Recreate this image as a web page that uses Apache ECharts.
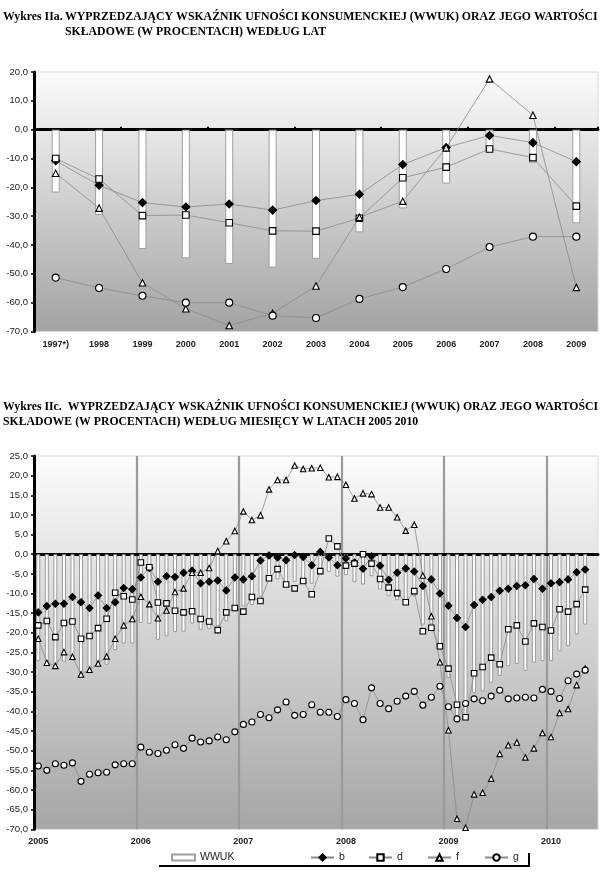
<!DOCTYPE html>
<html><head><meta charset="utf-8">
<script src="https://cdn.jsdelivr.net/npm/echarts@6/dist/echarts.min.js"></script>
<style>html,body{margin:0;padding:0;background:#fff}#c{width:600px;height:881px}</style>
</head><body><div id="c"></div>
<script>
// ---- Annual data (chart IIa) ----
const years = ['1997*)','1998','1999','2000','2001','2002','2003','2004','2005','2006','2007','2008','2009'];
const wwukY = [-21.8,-29.6,-41.4,-44.6,-46.6,-47.8,-44.8,-35.6,-27.3,-18.7,-7.7,-11.5,-32.5];
const bY = [-10.8,-19.3,-25.3,-26.8,-25.8,-27.9,-24.6,-22.4,-12.1,-6.2,-2.0,-4.5,-11.1];
const dY = [-10.0,-17.1,-29.8,-29.6,-32.3,-35.1,-35.2,-30.7,-16.7,-13.0,-6.7,-9.7,-26.5];
const fY = [-15.1,-27.2,-53.1,-62.1,-67.9,-63.7,-54.2,-30.4,-24.8,-6.3,17.6,5.0,-54.7];
const gY = [-51.3,-54.9,-57.6,-60.0,-60.0,-64.5,-65.3,-58.7,-54.6,-48.3,-40.7,-37.1,-37.1];

// ---- Monthly data (chart IIc), Jan 2005 .. May 2010 (axis runs to Jun 2010) ----
const monthYears = ['2005','2006','2007','2008','2009','2010'];
const monthsInLastYear = 6;
const wwukM = [-27.2,-27.7,-28.2,-27.3,-27.0,-30.0,-29.0,-28.0,-28.1,-24.4,-22.7,-22.7,
  -17.5,-17.7,-21.8,-20.9,-19.8,-19.7,-17.6,-19.2,-19.0,-18.3,-17.1,-14.6,
  -13.3,-12.9,-10.8,-5.7,-6.4,-8.2,-7.0,-7.4,-7.5,-5.0,-4.5,-5.7,
  -5.3,-7.1,-7.7,-5.6,-9.0,-10.7,-11.7,-12.8,-10.7,-17.9,-17.7,-24.3,
  -31.5,-41.2,-42.1,-35.3,-34.9,-32.7,-31.0,-28.5,-27.9,-29.7,-27.6,-27.2,
  -27.2,-24.7,-23.4,-20.4,-17.9];
const bM = [-14.8,-13.2,-12.6,-12.6,-10.9,-12.2,-13.7,-10.5,-13.7,-12.2,-8.6,-8.9,
  -5.9,-3.5,-7.0,-5.6,-5.8,-4.7,-4.2,-7.4,-7.0,-6.7,-9.2,-5.9,
  -6.4,-5.6,-1.6,-0.3,-0.8,-1.5,-0.2,-0.7,-2.8,0.6,-0.8,-2.8,
  -1.0,-2.1,-3.7,-0.5,-2.9,-6.5,-4.7,-3.6,-4.4,-8.1,-6.4,-10.0,
  -13.1,-16.2,-18.5,-12.9,-11.6,-10.9,-9.3,-8.8,-8.1,-7.9,-6.3,-8.8,
  -7.4,-7.1,-6.4,-4.6,-3.9];
const dM = [-18.1,-17.0,-21.1,-17.5,-17.1,-21.5,-20.8,-18.8,-16.4,-9.8,-10.7,-11.5,
  -2.1,-3.3,-12.3,-12.5,-14.4,-14.8,-14.5,-16.5,-17.1,-19.3,-14.8,-13.7,
  -14.6,-10.9,-11.9,-6.1,-3.8,-7.7,-8.7,-6.8,-10.2,-4.3,4.0,2.0,
  -2.9,-2.4,0.0,-2.4,-6.3,-8.5,-9.9,-12.2,-9.4,-19.6,-18.7,-23.4,
  -29.1,-38.3,-41.5,-30.3,-28.7,-26.3,-28.0,-19.1,-18.1,-22.2,-17.6,-18.5,
  -19.4,-14.0,-14.6,-12.7,-9.0];
const fM = [-21.5,-27.6,-28.4,-24.9,-26.1,-30.6,-29.4,-27.8,-26.0,-21.5,-18.1,-16.5,
  -10.8,-12.7,-16.3,-14.3,-9.6,-8.7,-4.7,-4.7,-3.5,0.8,3.3,5.9,
  10.9,8.7,9.9,16.5,18.9,18.9,22.6,21.7,21.9,22.0,19.6,19.7,
  17.7,14.2,15.5,15.3,11.9,11.9,9.4,6.0,7.5,-5.4,-15.8,-27.5,
  -44.8,-67.3,-69.6,-61.1,-60.7,-57.1,-50.8,-48.6,-47.9,-51.7,-49.4,-45.5,
  -46.5,-40.4,-39.4,-33.3,-29.1];
const gM = [-53.9,-55.0,-53.3,-53.7,-53.1,-57.8,-56.0,-55.6,-55.5,-53.6,-53.3,-53.3,
  -49.1,-50.4,-50.7,-49.9,-48.5,-49.4,-46.8,-47.8,-47.5,-46.5,-47.2,-45.2,
  -43.3,-42.7,-40.8,-41.6,-39.6,-37.6,-41.0,-40.8,-38.3,-40.2,-40.2,-41.3,
  -37.0,-38.0,-42.1,-34.0,-38.0,-39.3,-37.4,-36.1,-34.9,-38.4,-36.4,-33.6,
  -38.8,-41.9,-38.0,-36.8,-37.3,-36.1,-34.6,-36.8,-36.6,-36.4,-36.6,-34.4,
  -34.9,-36.7,-32.2,-30.5,-29.5];

const months = [];
monthYears.forEach((y, k) => {
  const n = k === monthYears.length - 1 ? monthsInLastYear : 12;
  for (let m = 1; m <= n; m++) months.push(y + '-' + (m < 10 ? '0' : '') + m);
});

const titleTopA = 'Wykres IIa.';
const titleTopB = 'WYPRZEDZAJĄCY WSKAŹNIK UFNOŚCI KONSUMENCKIEJ (WWUK) ORAZ JEGO WARTOŚCI';
const titleTopC = 'SKŁADOWE (W PROCENTACH) WEDŁUG LAT';
const titleBotA = 'Wykres IIc.  WYPRZEDZAJĄCY WSKAŹNIK UFNOŚCI KONSUMENCKIEJ (WWUK) ORAZ JEGO WARTOŚCI';
const titleBotB = 'SKŁADOWE (W PROCENTACH) WEDŁUG MIESIĘCY W LATACH 2005 2010';

const cv = document.createElement('canvas').getContext('2d');
function fitSize(text, w) {
  cv.font = 'bold 20px "Liberation Serif"';
  return 20 * w / cv.measureText(text).width;
}
const sTop = fitSize(titleTopB, 533);
const sBot = fitSize(titleBotA, 595);
const tfont = s => 'bold ' + s.toFixed(2) + 'px "Liberation Serif"';

const fmt = v => v.toFixed(1).replace('.', ',');
const grad = (a, b) => new echarts.graphic.LinearGradient(0, 0, 0, 1, [{offset: 0, color: a}, {offset: 1, color: b}]);
const SANS = '"Liberation Sans", Arial, sans-serif';
const lineCol = '#8a8a8a';

function lineSeries(name, data, symbol, fill, xi, size) {
  return {
    type: 'line', name, data, xAxisIndex: xi, yAxisIndex: xi === 0 ? 0 : 1,
    symbol, symbolSize: size, showAllSymbol: true,
    lineStyle: {color: lineCol, width: 0.8},
    itemStyle: {color: fill, borderColor: '#000', borderWidth: 1.1},
    emphasis: {disabled: true}, animation: false, z: 3
  };
}

const yAxisCommon = {
  type: 'value',
  axisLine: {show: true, lineStyle: {color: '#000', width: 3}},
  axisTick: {show: true, length: 3, lineStyle: {color: '#000', width: 1.5}},
  axisLabel: {formatter: fmt, fontSize: 9.5, color: '#222', fontFamily: SANS, margin: 6},
  splitLine: {show: false}
};

const option = {
  animation: false,
  grid: [
    {left: 34, right: 2, top: 72, height: 259.5, show: true, backgroundColor: grad('#fcfcfc', '#a3a3a3'), borderColor: '#d8d8d8', borderWidth: 1},
    {left: 34, right: 2, top: 456, height: 373.3, show: true, backgroundColor: grad('#fcfcfc', '#a6a6a6'), borderColor: '#d8d8d8', borderWidth: 1}
  ],
  xAxis: [
    {gridIndex: 0, type: 'category', data: years, position: 'bottom',
     axisLine: {show: false, onZero: false}, axisTick: {show: false},
     axisLabel: {fontSize: 9, fontWeight: 'bold', color: '#222', fontFamily: SANS, margin: 9, interval: 0}},
    {gridIndex: 0, type: 'category', data: years, position: 'top',
     axisLine: {show: true, onZero: true, lineStyle: {color: '#000', width: 3}},
     axisTick: {show: true, length: 3, lineStyle: {color: '#000', width: 2}},
     axisLabel: {show: false}},
    {gridIndex: 1, type: 'category', data: months, position: 'bottom',
     axisLine: {show: false, onZero: false}, axisTick: {show: false},
     axisLabel: {fontSize: 9, fontWeight: 'bold', color: '#222', fontFamily: SANS, margin: 8,
                 interval: (i) => i % 12 === 0, formatter: v => v.slice(0, 4)},
     splitLine: {show: true, interval: (i) => i % 12 === 0, showMinLine: false, showMaxLine: false,
                 lineStyle: {color: '#9a9a9a', width: 2.2}}},
    {gridIndex: 1, type: 'category', data: months, position: 'top',
     axisLine: {show: true, onZero: true, lineStyle: {color: '#000', width: 3}},
     axisTick: {show: false}, axisLabel: {show: false}}
  ],
  yAxis: [
    Object.assign({}, yAxisCommon, {gridIndex: 0, min: -70, max: 20, interval: 10}),
    Object.assign({}, yAxisCommon, {gridIndex: 1, min: -70, max: 25, interval: 5})
  ],
  legend: [
    {data: ['WWUK'], left: 171, top: 852, padding: 0, itemWidth: 23, itemHeight: 6, icon: 'rect', selectedMode: false,
     textStyle: {fontSize: 10.5, color: '#222', fontFamily: SANS}},
    {data: ['b'], left: 310, top: 852, padding: 0, itemWidth: 23, itemHeight: 8, selectedMode: false,
     textStyle: {fontSize: 10.5, color: '#222', fontFamily: SANS}},
    {data: ['d'], left: 368, top: 852, padding: 0, itemWidth: 23, itemHeight: 8, selectedMode: false,
     textStyle: {fontSize: 10.5, color: '#222', fontFamily: SANS}},
    {data: ['f'], left: 427, top: 852, padding: 0, itemWidth: 23, itemHeight: 8, selectedMode: false,
     textStyle: {fontSize: 10.5, color: '#222', fontFamily: SANS}},
    {data: ['g'], left: 484, top: 852, padding: 0, itemWidth: 23, itemHeight: 8, selectedMode: false,
     textStyle: {fontSize: 10.5, color: '#222', fontFamily: SANS}}
  ],
  graphic: [
    {type: 'text', x: 3, y: 17, style: {text: titleTopA, font: tfont(sTop), fill: '#000', verticalAlign: 'middle'}},
    {type: 'text', x: 65, y: 17, style: {text: titleTopB, font: tfont(sTop), fill: '#000', verticalAlign: 'middle'}},
    {type: 'text', x: 65, y: 31.5, style: {text: titleTopC, font: tfont(sTop), fill: '#000', verticalAlign: 'middle'}},
    {type: 'text', x: 3, y: 407, style: {text: titleBotA, font: tfont(sBot), fill: '#000', verticalAlign: 'middle'}},
    {type: 'text', x: 3, y: 421.5, style: {text: titleBotB, font: tfont(sBot), fill: '#000', verticalAlign: 'middle'}},
    {type: 'polyline', shape: {points: [[159, 866], [529, 866], [529, 853]]}, style: {stroke: '#000', lineWidth: 2, fill: null}}
  ],
  series: [
    {type: 'bar', name: 'WWUK', data: wwukY, xAxisIndex: 0, yAxisIndex: 0, barWidth: 8,
     itemStyle: {color: '#fff', borderColor: '#a0a0a0', borderWidth: 1}, emphasis: {disabled: true}, z: 2},
    lineSeries('b', bY, 'diamond', '#000', 0, 8),
    lineSeries('d', dY, 'rect', '#fff', 0, 6.5),
    lineSeries('f', fY, 'triangle', '#fff', 0, 6.5),
    lineSeries('g', gY, 'circle', '#fff', 0, 7),
    {type: 'bar', name: 'WWUK', data: wwukM, xAxisIndex: 2, yAxisIndex: 1, barWidth: 4,
     itemStyle: {color: '#fff', borderColor: '#9a9a9a', borderWidth: 1}, emphasis: {disabled: true}, z: 2},
    lineSeries('b', bM, 'diamond', '#000', 2, 7),
    lineSeries('d', dM, 'rect', '#fff', 2, 5.5),
    lineSeries('f', fM, 'triangle', '#fff', 2, 5.5),
    lineSeries('g', gM, 'circle', '#fff', 2, 6)
  ]
};

const chart = echarts.init(document.getElementById('c'), null, {renderer: 'canvas'});
chart.setOption(option);
</script></body></html>
